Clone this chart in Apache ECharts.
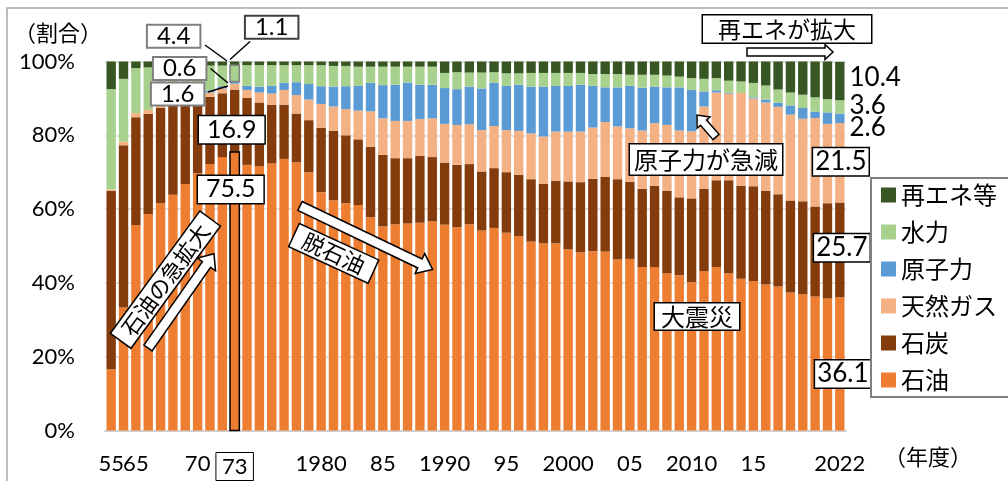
<!DOCTYPE html>
<html><head><meta charset="utf-8">
<script src="https://cdn.jsdelivr.net/npm/echarts@6/dist/echarts.min.js"></script>
<style>html,body{margin:0;padding:0;background:#fff;}#c{width:1008px;height:481px;}</style>
</head><body><div id="c"></div>
<script>
const years = ['1955','1960','1965','1966','1967','1968','1969','1970','1971','1972','1973','1974','1975','1976','1977','1978','1979','1980','1981','1982','1983','1984','1985','1986','1987','1988','1989','1990','1991','1992','1993','1994','1995','1996','1997','1998','1999','2000','2001','2002','2003','2004','2005','2006','2007','2008','2009','2010','2011','2012','2013','2014','2015','2016','2017','2018','2019','2020','2021','2022'];
const oil = [16.6,33.3,55.7,58.7,61.6,63.9,66.8,69.7,72.2,74.1, 75.5,72.0,71.6,72.4,73.6,72.7,70.0,64.6,62.4,61.6, 61.1,57.8,55.3,55.9,56.1,56.3,56.7,55.8,55.1,55.9, 54.2,54.9,53.6,52.7,51.2,50.7,50.7,49.1,48.3,48.6, 48.5,46.4,46.5,44.3,44.3,42.6,42.1,40.2,43.2,44.3, 42.6,41.1,40.5,39.6,39.0,37.4,36.9,36.3,35.8,36.1];
const coal = [48.3,44.0,29.2,27.1,25.8,24.5,22.1,19.8,18.2,17.3, 16.9,18.1,17.3,15.9,14.7,13.2,14.1,17.4,18.8,18.4, 17.8,19.1,19.4,17.9,17.7,18.1,17.4,16.8,16.9,16.3, 16.0,16.2,16.4,16.6,16.9,16.1,17.0,18.4,19.0,19.6, 20.2,21.7,20.9,21.2,22.0,22.4,21.1,22.7,22.3,23.5, 25.2,25.2,25.7,25.3,25.0,24.9,25.2,24.4,25.8,25.7];
const gas = [0.4,1.0,1.1,1.1,1.1,1.1,1.2,1.3,1.2,1.3, 1.6,2.2,2.7,3.0,4.0,5.0,5.6,6.5,6.6,7.1, 7.8,9.6,9.9,10.1,10.1,10.0,10.5,10.5,10.8,10.8, 11.2,11.4,11.4,11.9,12.4,12.9,13.3,13.5,13.7,13.9, 14.9,14.3,14.5,15.8,17.0,17.8,18.1,18.2,22.3,23.8, 23.5,25.2,23.8,24.0,23.7,23.3,22.4,24.0,21.5,21.5];
const nuclear = [0,0,0,0,0,0,0.1,0.3,0.5,0.6, 0.6,1.1,1.6,2.1,1.9,3.5,4.2,4.8,5.4,6.2, 6.7,7.7,9.0,9.8,10.4,9.3,9.1,9.7,9.7,10.2, 11.3,11.7,12.0,12.5,12.7,13.5,12.4,12.4,12.7,11.3, 9.4,10.6,11.5,11.6,9.9,10.2,11.7,11.2,4.1,0.6, 0.2,0,0.3,0.8,1.1,2.5,2.9,1.7,3.1,2.6];
const hydro = [27.2,17.0,12.2,11.5,9.7,8.8,8.2,7.4,6.8,5.6, 4.4,5.6,5.8,5.6,4.8,4.6,5.1,5.7,5.6,5.5, 5.2,4.4,5.0,4.9,4.3,4.9,4.9,4.1,4.6,3.8, 4.3,2.9,3.4,3.1,3.7,3.7,3.5,3.5,3.2,3.2, 3.6,3.6,3.0,3.5,3.2,3.2,2.9,3.2,3.4,3.3, 3.3,3.1,3.9,3.8,3.6,3.5,3.6,3.9,3.6,3.6];
const renew = [7.5,4.7,1.8,1.6,1.8,1.7,1.6,1.5,1.1,1.1, 1.1,1.0,1.0,1.0,1.0,1.0,1.0,1.0,1.2,1.2, 1.4,1.4,1.4,1.4,1.4,1.4,1.4,3.1,2.9,3.0, 3.0,2.9,3.2,3.2,3.1,3.1,3.1,3.1,3.1,3.4, 3.4,3.4,3.6,3.6,3.6,3.8,4.1,4.5,4.7,4.5, 5.2,5.4,5.8,6.5,7.6,8.4,9.0,9.7,10.2,10.4];
const seriesNames = ['石油','石炭','天然ガス','原子力','水力','再エネ等'];
const legendOrder = ['再エネ等','水力','原子力','天然ガス','石炭','石油'];
const xTickYears = ['1955','1965','1970','1973','1980','1985','1990','1995','2000','2005','2010','2015','2022'];
const xTickTexts = ['55','65','70','73','1980','85','1990','95','2000','05','2010','15','2022'];
const yTicks = [0,20,40,60,80,100];

const NUM = "Lato, 'Noto Sans CJK JP', sans-serif";
const JP = "'Noto Sans CJK JP', sans-serif";
const colors = ['#ED7D31','#843C0C','#F4B183','#5B9BD5','#A9D18E','#375623'];
const i73 = years.indexOf('1973');
const iLast = years.length - 1;

const grayBox = {show:true, position:'inside', fontSize:24, lineHeight:21, fontFamily:NUM, color:'#000', backgroundColor:'#fff', borderColor:'#7f7f7f', borderWidth:2, padding:[0,9,0,9]};
const blackBox = {show:true, position:'inside', fontSize:25, lineHeight:25, fontFamily:NUM, color:'#000', backgroundColor:'#fff', borderColor:'#000', borderWidth:1.5, padding:[1,8,1,8]};
const endBox = {show:true, position:'inside', fontSize:26, lineHeight:25, fontFamily:NUM, color:'#000', backgroundColor:'#fff', borderColor:'#000', borderWidth:1.5, padding:[1,2,1,2]};
const endPlain = {show:true, position:'right', distance:5, fontSize:26, fontFamily:NUM, color:'#000'};

const special = [
  {[iLast]: {label: Object.assign({}, endBox, {offset:[3,10]})}},
  {[i73]: {label: Object.assign({}, blackBox, {offset:[-3,9]})},
   [iLast]: {label: Object.assign({}, endBox, {offset:[2,-2]})}},
  {[i73]: {label: Object.assign({}, grayBox, {offset:[-57,7.5]})},
   [iLast]: {label: Object.assign({}, endBox, {offset:[1,-1]})}},
  {[i73]: {label: Object.assign({}, grayBox, {offset:[-55,-14]})},
   [iLast]: {label: Object.assign({}, endPlain, {offset:[0,9]})}},
  {[i73]: {label: Object.assign({}, grayBox, {offset:[-61,-37]})},
   [iLast]: {label: Object.assign({}, endPlain, {offset:[0,-1]})}},
  {[i73]: {label: Object.assign({}, grayBox, {borderColor:'#404040', offset:[37,-36]})},
   [iLast]: {label: Object.assign({}, endPlain, {offset:[0,-3]})}}
];
const valuesList = [oil, coal, gas, nuclear, hydro, renew];

const series = seriesNames.map((name, s) => ({
  name, type:'bar', stack:'total', barCategoryGap:'24%', clip:true,
  itemStyle:{color:colors[s]},
  label:{show:false},
  emphasis:{disabled:true},
  z: 2,
  data: valuesList[s].map((v,i) => special[s][i] ? Object.assign({value:v}, special[s][i]) : v)
}));

function arrow(tx, ty, len, deg, sw, hw, hl) {
  return {type:'polygon', x:tx, y:ty, rotation:deg*Math.PI/180, z:100,
    shape:{points:[[0,-sw/2],[len-hl,-sw/2],[len-hl,-hw/2],[len,0],[len-hl,hw/2],[len-hl,sw/2],[0,sw/2]]},
    style:{fill:'#fff', stroke:'#000', lineWidth:1.5}};
}
function boxText(text, x, y, size, pad, rot, border, family) {
  return {type:'text', x, y, rotation:(rot||0)*Math.PI/180, z:100,
    style:{text, font: size+"px "+(family||JP), fill:'#000', align:'center', verticalAlign:'middle', textAlign:'center', textVerticalAlign:'middle',
      backgroundColor:'#fff', borderColor: border||'#000', borderWidth:1.5, padding:pad, lineHeight:size}};
}
function line(x1,y1,x2,y2){return {type:'line', z:100, shape:{x1,y1,x2,y2}, style:{stroke:'#000', lineWidth:1.5}};}

const chart = echarts.init(document.getElementById('c'), null, {renderer:'canvas'});
chart.setOption({
  animation:false,
  backgroundColor:'#fff',
  grid:{left:105, right:162, top:61.5, bottom:50.5},
  legend:{data:legendOrder, orient:'vertical', left:871, top:178, icon:'rect', itemWidth:15, itemHeight:15, itemGap:13,
    padding:[5,60,5,10], borderColor:'#808080', borderWidth:2, backgroundColor:'#fff',
    textStyle:{fontSize:24, lineHeight:24, fontFamily:JP, color:'#000'}, selectedMode:false},
  xAxis:{type:'category', data:years, axisTick:{show:false},
    axisLine:{lineStyle:{color:'#d0d0d0', width:2}},
    axisLabel:{interval:0, margin:22, fontSize:22, fontFamily:NUM, color:'#000',
      formatter: v => { const k = xTickYears.indexOf(v); if (k < 0) return ''; return v === '1973' ? '{box|'+xTickTexts[k]+'}' : xTickTexts[k]; },
      rich:{box:{fontSize:22, fontFamily:NUM, color:'#000', borderColor:'#000', borderWidth:1, padding:[3,6,3,6]}}}},
  yAxis:{type:'value', min:yTicks[0], max:yTicks[yTicks.length-1], interval:yTicks[1]-yTicks[0],
    axisLine:{show:false}, axisTick:{show:false},
    splitLine:{lineStyle:{color:'#d9d9d9', width:1.5}},
    axisLabel:{formatter:'{value}%', fontSize:22, fontFamily:NUM, color:'#000', margin:30}},
  series
});

// data-anchored highlight for the 1973 bar
const pBase = chart.convertToPixel({xAxisIndex:0, yAxisIndex:0}, [years[i73], 0]);
const pOil = chart.convertToPixel({xAxisIndex:0, yAxisIndex:0}, [years[i73], oil[i73]]);
const hydroLo = oil[i73] + coal[i73] + gas[i73] + nuclear[i73];
const pHLo = chart.convertToPixel({xAxisIndex:0, yAxisIndex:0}, [years[i73], hydroLo]);
const pHHi = chart.convertToPixel({xAxisIndex:0, yAxisIndex:0}, [years[i73], hydroLo + hydro[i73]]);
const bw = 12.35 * 0.76;

chart.setOption({
  graphic:[
    {type:'rect', z:-1, shape:{x:7, y:8, width:1010, height:490}, style:{fill:'none', stroke:'#a6a6a6', lineWidth:1.5}},
    {type:'rect', z:50, shape:{x:pBase[0]-bw/2, y:pOil[1], width:bw, height:pBase[1]-pOil[1]}, style:{fill:colors[0], stroke:'#000', lineWidth:1.5}},
    {type:'rect', z:50, shape:{x:pHLo[0]-bw/2, y:pHHi[1], width:bw, height:pHLo[1]-pHHi[1]}, style:{fill:colors[4], stroke:'#7f7f7f', lineWidth:1.5}},
    boxText(String(oil[i73]), pOil[0]-4, pOil[1]+37.5, 25, [1,8,1,8], 0, '#000', NUM),
    {type:'text', x:14, y:33, z:100, style:{text:'（割合）', font:"22px "+JP, fill:'#000', verticalAlign:'middle', textVerticalAlign:'middle'}},
    {type:'text', x:884, y:457, z:100, style:{text:'（年度）', font:"22px "+JP, fill:'#000', verticalAlign:'middle', textVerticalAlign:'middle'}},
    line(205,45,227,61), line(250,41.5,230,59.5), line(210.5,68.5,228,83), line(208,92,228,86),
    boxText('石油の急拡大', 165.4, 279.7, 22, [1,9,1,9], 53.8),
    arrow(148, 348, 115, 55, 10, 22, 13),
    boxText('脱石油', 333.7, 253.3, 22, [1,10,1,10], -24.7),
    arrow(300, 206, 147, -25.6, 10, 22, 14),
    boxText('原子力が急減', 706, 159.5, 24, [3,4,3,4], 0),
    arrow(716, 137, 29, 131, 8, 17, 10),
    boxText('大震災', 697, 316.5, 24, [1,6,1,6], 0),
    boxText('再エネが拡大', 787, 29, 23, [2,15,2,15], 0),
    arrow(747, 52, 86, 0, 8, 15, 8)
  ]
});
</script></body></html>
